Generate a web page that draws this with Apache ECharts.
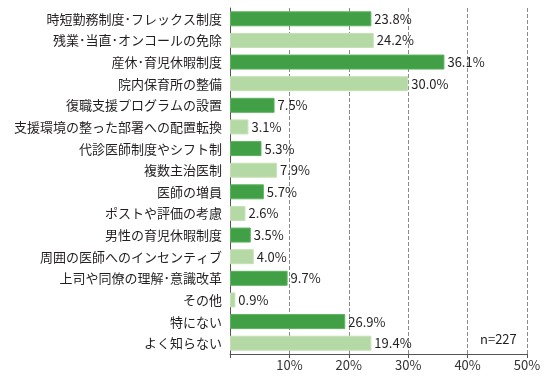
<!DOCTYPE html>
<html>
<head>
<meta charset="utf-8">
<script src="https://cdn.jsdelivr.net/npm/echarts@6/dist/echarts.min.js"></script>
<style>html,body{margin:0;padding:0;background:#fff;}#c{width:550px;height:384px;}</style>
</head>
<body>
<div id="c"></div>
<script>
const categories = [
  '時短勤務制度･フレックス制度',
  '残業･当直･オンコールの免除',
  '産休･育児休暇制度',
  '院内保育所の整備',
  '復職支援プログラムの設置',
  '支援環境の整った部署への配置転換',
  '代診医師制度やシフト制',
  '複数主治医制',
  '医師の増員',
  'ポストや評価の考慮',
  '男性の育児休暇制度',
  '周囲の医師へのインセンティブ',
  '上司や同僚の理解･意識改革',
  'その他',
  '特にない',
  'よく知らない'
];
// bar lengths as drawn in the picture (%)
const barValues = [23.8, 24.2, 36.1, 30.0, 7.5, 3.1, 5.3, 7.9, 5.7, 2.6, 3.5, 4.0, 9.7, 0.9, 19.4, 23.8];
// value labels as printed in the picture
const valueLabels = ['23.8%', '24.2%', '36.1%', '30.0%', '7.5%', '3.1%', '5.3%', '7.9%', '5.7%', '2.6%', '3.5%', '4.0%', '9.7%', '0.9%', '26.9%', '19.4%'];
const xTicks = [0, 10, 20, 30, 40, 50];
const note = 'n=227';

const DARK = '#41a046';
const LIGHT = '#b5d9a4';
const FONT = '"Noto Sans CJK JP", "Noto Sans", sans-serif';

const chart = echarts.init(document.getElementById('c'), null, {renderer: 'canvas'});
chart.setOption({
  animation: false,
  backgroundColor: '#fff',
  grid: {left: 230, right: 23, top: 8, bottom: 30, containLabel: false},
  xAxis: {
    type: 'value',
    min: xTicks[0], max: xTicks[xTicks.length - 1], interval: 10,
    axisLine: {show: true, lineStyle: {color: '#555', width: 1}},
    axisTick: {show: true, length: 4, lineStyle: {color: '#555'}},
    axisLabel: {
      color: '#333', fontSize: 13, fontFamily: FONT, margin: 5,
      formatter: v => v === 0 ? '' : v + '%'
    },
    splitLine: {show: true, lineStyle: {color: '#8a8a8a', type: [4, 2], width: 1}}
  },
  yAxis: {
    type: 'category',
    data: categories,
    inverse: true,
    axisLine: {show: true, lineStyle: {color: '#555', width: 1}},
    axisTick: {show: false},
    axisLabel: {color: '#231f20', fontSize: 13, fontFamily: FONT, margin: 8}
  },
  series: [{
    type: 'bar',
    barWidth: 15,
    data: barValues.map((v, i) => ({
      value: v,
      itemStyle: {
        color: i % 2 === 0 ? DARK : LIGHT,
        borderColor: i % 2 === 0 ? '#5cb35e' : '#c4e1b6',
        borderWidth: 1
      }
    })),
    label: {
      show: true,
      position: 'right',
      distance: 3,
      color: '#231f20',
      fontSize: 13,
      fontFamily: FONT,
      formatter: p => valueLabels[p.dataIndex]
    }
  }],
  graphic: [{
    type: 'text',
    left: 480,
    top: 333,
    style: {text: note, fill: '#231f20', fontSize: 13, fontFamily: FONT}
  }]
});
</script>
</body>
</html>
